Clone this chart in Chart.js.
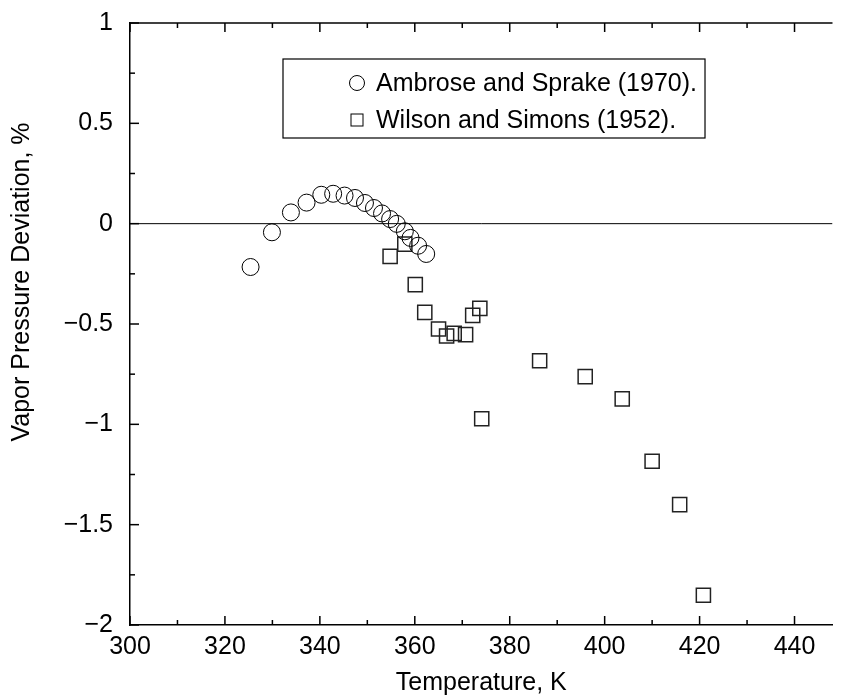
<!DOCTYPE html>
<html lang="en">
<head>
    <meta charset="UTF-8">
    <title>Vapor Pressure Deviation</title>
    <style>
        html, body {
            margin: 0;
            padding: 0;
            background: #fff;
            overflow: hidden;
        }
        #wrap {
            width: 844px;
            height: 698px;
        }
    </style>
</head>
<body>

<div id="wrap">
    <canvas id="devChart" width="844" height="698"></canvas>
</div>

<script src="https://cdn.jsdelivr.net/npm/chart.js"></script>

<script>
    // Ambrose and Sprake (1970)
    const ambroseT = [325.4, 329.9, 333.9, 337.2, 340.3, 342.8, 345.2, 347.4, 349.5, 351.4, 353.1, 354.8, 356.2, 357.9, 359.1, 360.7, 362.4];
    const ambroseDev = [-0.216, -0.043, 0.056, 0.105, 0.144, 0.149, 0.140, 0.128, 0.103, 0.078, 0.051, 0.023, -0.001, -0.038, -0.071, -0.110, -0.151];

    // Wilson and Simons (1952)
    const wilsonT = [354.8, 357.9, 360.1, 362.1, 365.0, 366.7, 368.3, 370.7, 372.2, 373.7, 374.1, 386.3, 395.9, 403.7, 410.0, 415.8, 420.8];
    const wilsonDev = [-0.163, -0.102, -0.304, -0.442, -0.525, -0.560, -0.547, -0.553, -0.457, -0.422, -0.972, -0.683, -0.762, -0.873, -1.184, -1.400, -1.852];

    const seriesNames = ['Ambrose and Sprake (1970).', 'Wilson and Simons (1952).'];
    const xTicks = [300, 320, 340, 360, 380, 400, 420, 440];
    const yTicks = [-2, -1.5, -1, -0.5, 0, 0.5, 1];
    const zeroLineT = [300, 448];
    const zeroLineDev = [0, 0];

    const FONT = '"Liberation Sans", Arial, Helvetica, sans-serif';

    function toPoints(xs, ys) {
        return xs.map((x, i) => ({x: x, y: ys[i]}));
    }

    // inward ticks, top frame, legend box, y title
    const framePlugin = {
        id: 'frame',
        afterDraw(chart) {
            const ctx = chart.ctx;
            const a = chart.chartArea;
            const xs = chart.scales.x;
            const ys = chart.scales.y;
            ctx.save();
            ctx.strokeStyle = '#000';
            ctx.lineWidth = 1.5;

            // top frame line
            ctx.beginPath();
            ctx.moveTo(a.left, a.top);
            ctx.lineTo(a.right, a.top);
            ctx.stroke();

            // x ticks, bottom and top
            for (let v = 300; v <= xs.max; v += 10) {
                const px = xs.getPixelForValue(v);
                const len = (v % 20 === 0) ? 9 : 5;
                ctx.beginPath();
                ctx.moveTo(px, a.bottom);
                ctx.lineTo(px, a.bottom - len);
                ctx.moveTo(px, a.top);
                ctx.lineTo(px, a.top + len);
                ctx.stroke();
            }
            // y ticks, left
            for (let k = 0; k <= 12; k++) {
                const v = -2 + k * 0.25;
                const py = ys.getPixelForValue(v);
                const len = (k % 2 === 0) ? 9 : 5;
                ctx.beginPath();
                ctx.moveTo(a.left, py);
                ctx.lineTo(a.left + len, py);
                ctx.stroke();
            }

            // y axis title
            ctx.fillStyle = '#000';
            ctx.font = '25px ' + FONT;
            ctx.textAlign = 'center';
            ctx.textBaseline = 'middle';
            ctx.translate(22, 282);
            ctx.rotate(-Math.PI / 2);
            ctx.fillText('Vapor Pressure Deviation, %', 0, 0);
            ctx.restore();

            // legend
            ctx.save();
            ctx.font = '25px ' + FONT;
            const bx = 283, by = 59, bh = 79;
            const textX = 376;
            const w = Math.max(ctx.measureText(seriesNames[0]).width, ctx.measureText(seriesNames[1]).width);
            const bw = textX - bx + w + 8;
            ctx.fillStyle = '#fff';
            ctx.fillRect(bx, by, bw, bh);
            ctx.strokeStyle = '#000';
            ctx.lineWidth = 1.2;
            ctx.strokeRect(bx, by, bw, bh);

            ctx.lineWidth = 1;
            ctx.beginPath();
            ctx.arc(357, 83, 7.5, 0, Math.PI * 2);
            ctx.stroke();
            ctx.strokeRect(351, 114, 12, 12);

            ctx.fillStyle = '#000';
            ctx.textAlign = 'left';
            ctx.textBaseline = 'middle';
            ctx.fillText(seriesNames[0], textX, 84);
            ctx.fillText(seriesNames[1], textX, 121);
            ctx.restore();
        }
    };

    new Chart(document.getElementById('devChart'), {
        type: 'scatter',
        data: {
            datasets: [
                {
                    label: 'zero',
                    data: toPoints(zeroLineT, zeroLineDev),
                    showLine: true,
                    borderColor: '#000',
                    borderWidth: 1,
                    pointRadius: 0,
                    order: 3
                },
                {
                    label: seriesNames[1],
                    data: toPoints(wilsonT, wilsonDev),
                    pointStyle: 'rect',
                    pointRadius: 10,
                    borderColor: '#222',
                    borderWidth: 1.5,
                    backgroundColor: 'rgba(0,0,0,0)',
                    order: 2
                },
                {
                    label: seriesNames[0],
                    data: toPoints(ambroseT, ambroseDev),
                    pointStyle: 'circle',
                    pointRadius: 8.5,
                    borderColor: '#000',
                    borderWidth: 1,
                    backgroundColor: 'rgba(0,0,0,0)',
                    order: 1
                }
            ]
        },
        options: {
            responsive: false,
            animation: false,
            layout: {padding: {top: 23, right: 0, left: 0, bottom: 0}},
            plugins: {
                legend: {display: false},
                tooltip: {enabled: false}
            },
            scales: {
                x: {
                    type: 'linear',
                    min: 300,
                    max: 448,
                    afterFit: s => {
                        s.height = 73;
                        s.paddingLeft = 0;
                        s.paddingRight = 0;
                    },
                    afterBuildTicks: s => { s.ticks = xTicks.map(v => ({value: v})); },
                    grid: {display: false, drawTicks: false},
                    border: {display: true, color: '#000', width: 1.5},
                    ticks: {
                        color: '#000',
                        font: {family: FONT, size: 25},
                        padding: 7,
                        maxRotation: 0,
                        autoSkip: false
                    },
                    title: {
                        display: true,
                        text: 'Temperature, K',
                        color: '#000',
                        font: {family: FONT, size: 25},
                        padding: {top: 0, bottom: 0}
                    }
                },
                y: {
                    type: 'linear',
                    min: -2,
                    max: 1,
                    afterFit: s => {
                        s.width = 130;
                        s.paddingTop = 0;
                        s.paddingBottom = 0;
                    },
                    afterBuildTicks: s => { s.ticks = yTicks.map(v => ({value: v})); },
                    grid: {display: false, drawTicks: false},
                    border: {display: true, color: '#000', width: 1.5},
                    ticks: {
                        color: '#000',
                        font: {family: FONT, size: 25},
                        padding: 17,
                        callback: v => String(v).replace('-', '\u2212')
                    }
                }
            }
        },
        plugins: [framePlugin]
    });
</script>

</body>
</html>
